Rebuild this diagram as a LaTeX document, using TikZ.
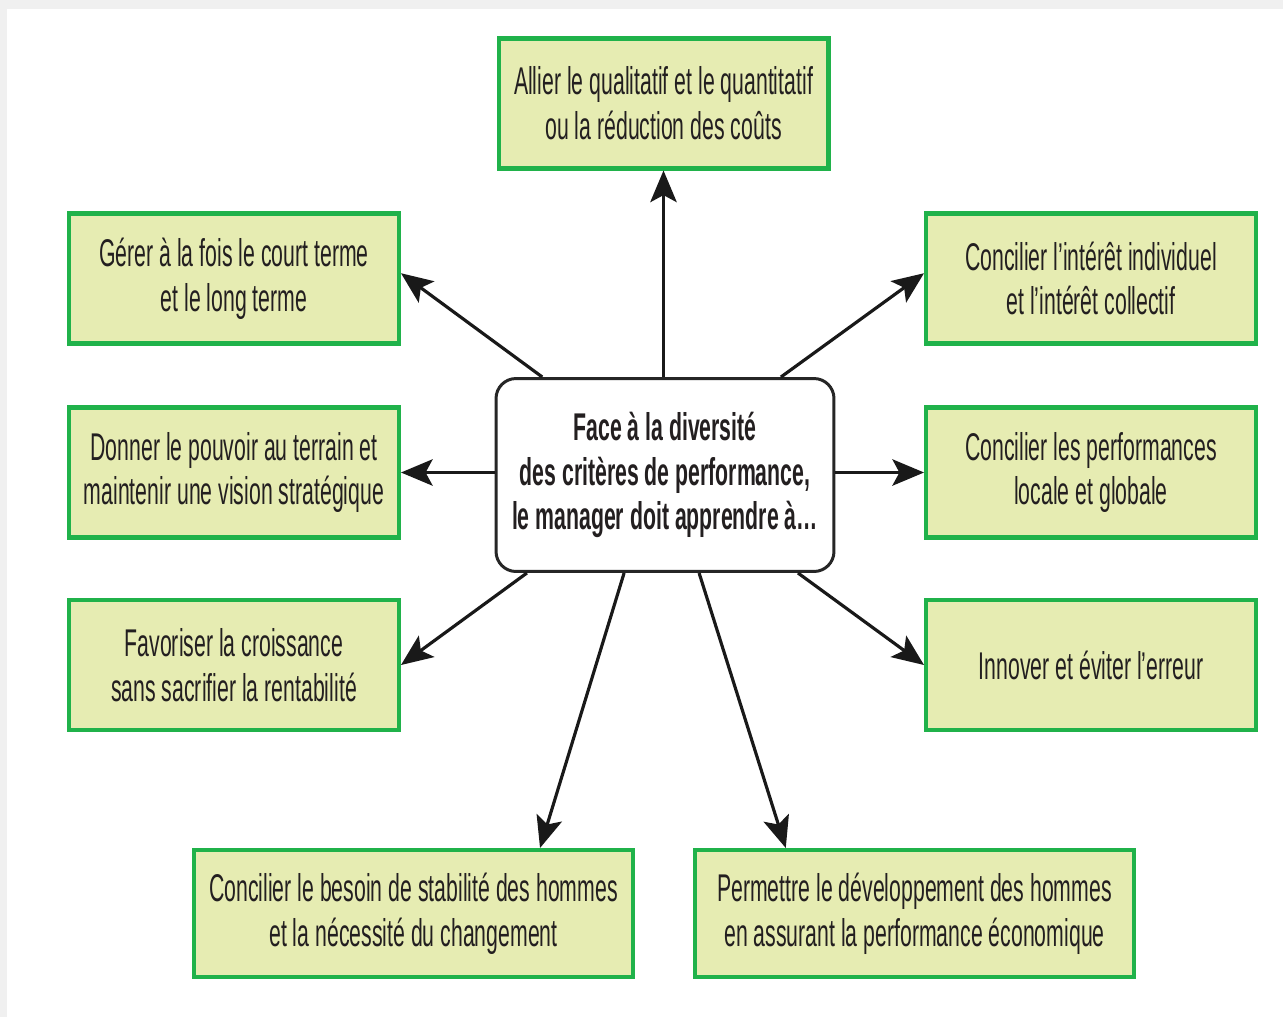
\documentclass[tikz,border=0pt]{standalone}
\usepackage{fontspec}
\setmainfont[FakeStretch=0.55]{Liberation Sans}
\usepackage{xcolor}
\usepackage{tikz}
\usetikzlibrary{arrows.meta,positioning,calc}
\definecolor{boxfill}{RGB}{230,236,178}
\definecolor{boxgreen}{RGB}{32,178,74}
\definecolor{inktext}{RGB}{35,31,32}
\tikzset{
  goalbox/.style={
    rectangle, draw=boxgreen, line width=2.3pt, fill=boxfill,
    minimum width=6.6cm, minimum height=2.6cm, inner sep=2pt,
    align=center, text=inktext, font=\fontsize{22}{25.5}\selectfont
  },
  widebox/.style={goalbox, minimum width=8.8cm, minimum height=2.54cm},
  hubbox/.style={
    rectangle, rounded corners=0.4cm, draw=black!85, line width=1.7pt, fill=white,
    minimum width=6.76cm, minimum height=3.86cm,
    align=center, text=inktext, font=\fontsize{22}{25.5}\selectfont\bfseries
  },
  hubarrow/.style={-{Stealth[length=18pt,width=15pt,inset=4pt]}, line width=1.8pt, draw=black!90},
}
\begin{document}
\begin{tikzpicture}[x=0.02cm, y=-0.02cm]
  \useasboundingbox (0,0) rectangle (1283,1017);
  \fill[black!6] (0,0) rectangle (1283,1017);
  \fill[white] (7,9) rectangle (1283,1017);
  % centre
  \node (hub) [hubbox] at (665,475) {Face à la diversité\\des critères de performance,\\le manager doit apprendre à\ldots};
  % boxes around it
  \node (top) [goalbox] at (663.5,103.5) {Allier le qualitatif et le quantitatif\\ou la réduction des coûts};
  \node (l1) [goalbox] at (234,278.5) {Gérer à la fois le court terme\\et le long terme};
  \node (r1) [goalbox] at (1091,278.5) {Concilier l’intérêt individuel\\et l’intérêt collectif};
  \node (l2) [goalbox] at (234,472.5) {Donner le pouvoir au terrain et\\maintenir une vision stratégique};
  \node (r2) [goalbox] at (1091,472.5) {Concilier les performances\\locale et globale};
  \node (l3) [goalbox] at (234,665) {Favoriser la croissance\\sans sacrifier la rentabilité};
  \node (r3) [goalbox] at (1091,665) {Innover et éviter l’erreur};
  \node (bl) [widebox] at (413.5,913.5) {Concilier le besoin de stabilité des hommes\\et la nécessité du changement};
  \node (br) [widebox] at (914.5,913.5) {Permettre le développement des hommes\\en assurant la performance économique};
  % arrows
  \draw[hubarrow] (top.south |- hub.north) -- (top.south);
  \draw[hubarrow] ($(hub.north west)!0.14!(hub.north east)$) -- ([yshift=3pt]l1.east);
  \draw[hubarrow] ($(hub.north west)!0.84!(hub.north east)$) -- ([yshift=3pt]r1.west);
  \draw[hubarrow] (hub.west |- l2.east) -- (l2.east);
  \draw[hubarrow] (hub.east |- r2.west) -- (r2.west);
  \draw[hubarrow] ($(hub.south west)!0.095!(hub.south east)$) -- (l3.east);
  \draw[hubarrow] ($(hub.south west)!0.89!(hub.south east)$) -- (r3.west);
  \draw[hubarrow] ($(hub.south west)!0.38!(hub.south east)$) -- ($(bl.north west)!0.785!(bl.north east)$);
  \draw[hubarrow] ($(hub.south west)!0.6!(hub.south east)$) -- ($(br.north west)!0.21!(br.north east)$);
\end{tikzpicture}
\end{document}
